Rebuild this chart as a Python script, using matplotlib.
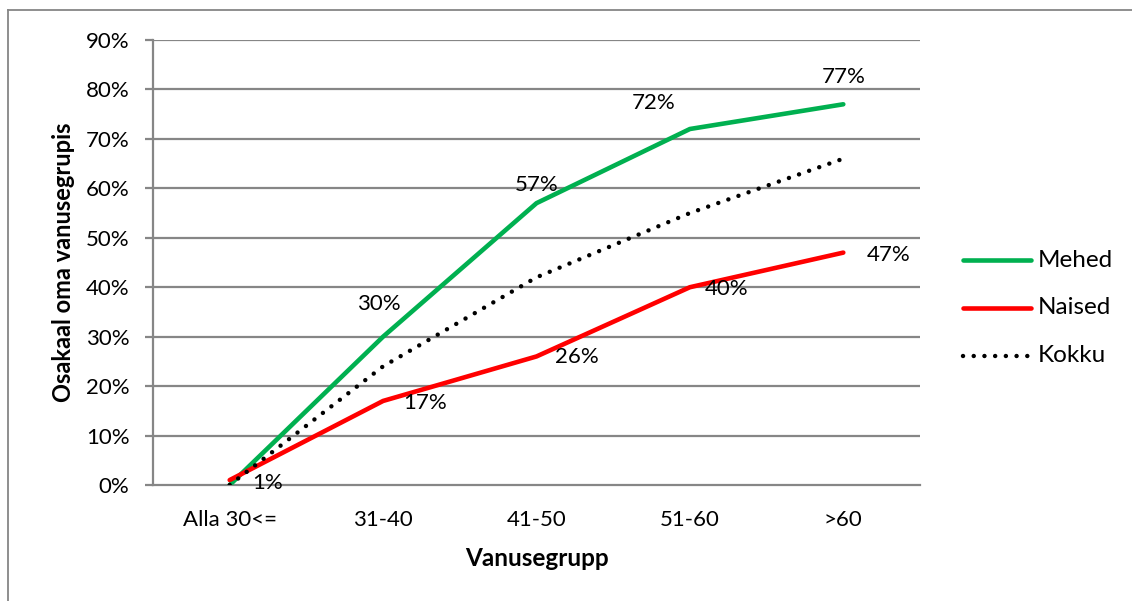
import matplotlib
matplotlib.use("Agg")
import matplotlib.pyplot as plt
from matplotlib.lines import Line2D

categories = ["Alla 30<=", "31-40", "41-50", "51-60", ">60"]
mehed = [0, 30, 57, 72, 77]
naised = [1, 17, 26, 40, 47]
kokku = [0, 24, 42, 55, 66]

mehed_labels = [None, "30%", "57%", "72%", "77%"]
naised_labels = ["1%", "17%", "26%", "40%", "47%"]
series_names = ["Mehed", "Naised", "Kokku"]

yticks = list(range(0, 91, 10))

plt.rcParams["font.family"] = ["Lato", "DejaVu Sans"]

W, H = 1132, 601
fig = plt.figure(figsize=(W / 100, H / 100), dpi=100)
fig.patch.set_facecolor("white")

def fx(px):
    return px / W

def fy(py):
    return 1 - py / H

grid_color = "#868686"

# chart frame (top and left edges)
fig.add_artist(Line2D([fx(8), 1.0], [fy(9.8), fy(9.8)], transform=fig.transFigure,
                      color=grid_color, linewidth=1.3))
fig.add_artist(Line2D([fx(8), fx(8)], [fy(9.8), 0.0], transform=fig.transFigure,
                      color=grid_color, linewidth=1.3))

left, right, top, bottom = 153, 920, 40, 485
ax = fig.add_axes([fx(left), fy(bottom), (right - left) / W, (bottom - top) / H])

x = list(range(len(categories)))
ax.set_xlim(-0.5, len(categories) - 0.5)
ax.set_ylim(0, 90)
ax.set_yticks(yticks)
ax.set_yticklabels([f"{v}%" for v in yticks])
ax.set_xticks(x)
ax.set_xticklabels(categories)
for v in yticks[1:]:
    ax.axhline(v, color=grid_color, linewidth=1.6, zorder=0)

for side in ["top", "right"]:
    ax.spines[side].set_visible(False)
for side in ["left", "bottom"]:
    ax.spines[side].set_color(grid_color)
    ax.spines[side].set_linewidth(1.6)
ax.tick_params(axis="y", length=6, width=1.6, color=grid_color, labelsize=16, pad=11)
ax.tick_params(axis="x", length=0, labelsize=16, pad=18)

green = "#00B050"
red = "#FF0000"
dots = (0, (0.01, 2.4))
ax.plot(x, mehed, color=green, linewidth=3.3, solid_capstyle="round", zorder=3)
ax.plot(x, naised, color=red, linewidth=3.3, solid_capstyle="round", zorder=3)
ax.plot(x, kokku, color="black", linewidth=3.2, linestyle=dots,
        dash_capstyle="round", zorder=4)

# value labels, offsets in pixels from the data point
m_off = [None, (-4, 33), (0, 18), (-36, 26), (0, 27)]
n_off = [(38, -3), (42, -2), (40, -1), (37, -2), (45, -2)]
for values, labels, offs in [(mehed, mehed_labels, m_off), (naised, naised_labels, n_off)]:
    for i, (v, lab) in enumerate(zip(values, labels)):
        if lab is None:
            continue
        dx, dy = offs[i]
        ax.annotate(lab, (i, v), xytext=(dx * 0.72, dy * 0.72), textcoords="offset points",
                    ha="center", va="center", fontsize=16)

ax.set_xlabel("Vanusegrupp", fontsize=17.5, fontweight="bold", labelpad=12)
ax.set_ylabel("Osakaal oma vanusegrupis", fontsize=17, fontweight="bold", labelpad=8)

# legend drawn at fixed positions to the right of the plot
legend_styles = [dict(color=green, linewidth=3.3, solid_capstyle="round"),
                 dict(color=red, linewidth=3.3, solid_capstyle="round"),
                 dict(color="black", linewidth=3.2, linestyle=dots, dash_capstyle="round")]
for k, (name, style) in enumerate(zip(series_names, legend_styles)):
    yy = 260 + 48 * k
    fig.add_artist(Line2D([fx(963), fx(1031)], [fy(yy), fy(yy)],
                          transform=fig.transFigure, **style))
    fig.text(fx(1038), fy(yy), name, ha="left", va="center", fontsize=17.5)

fig.savefig("out.png", dpi=100, facecolor="white")
